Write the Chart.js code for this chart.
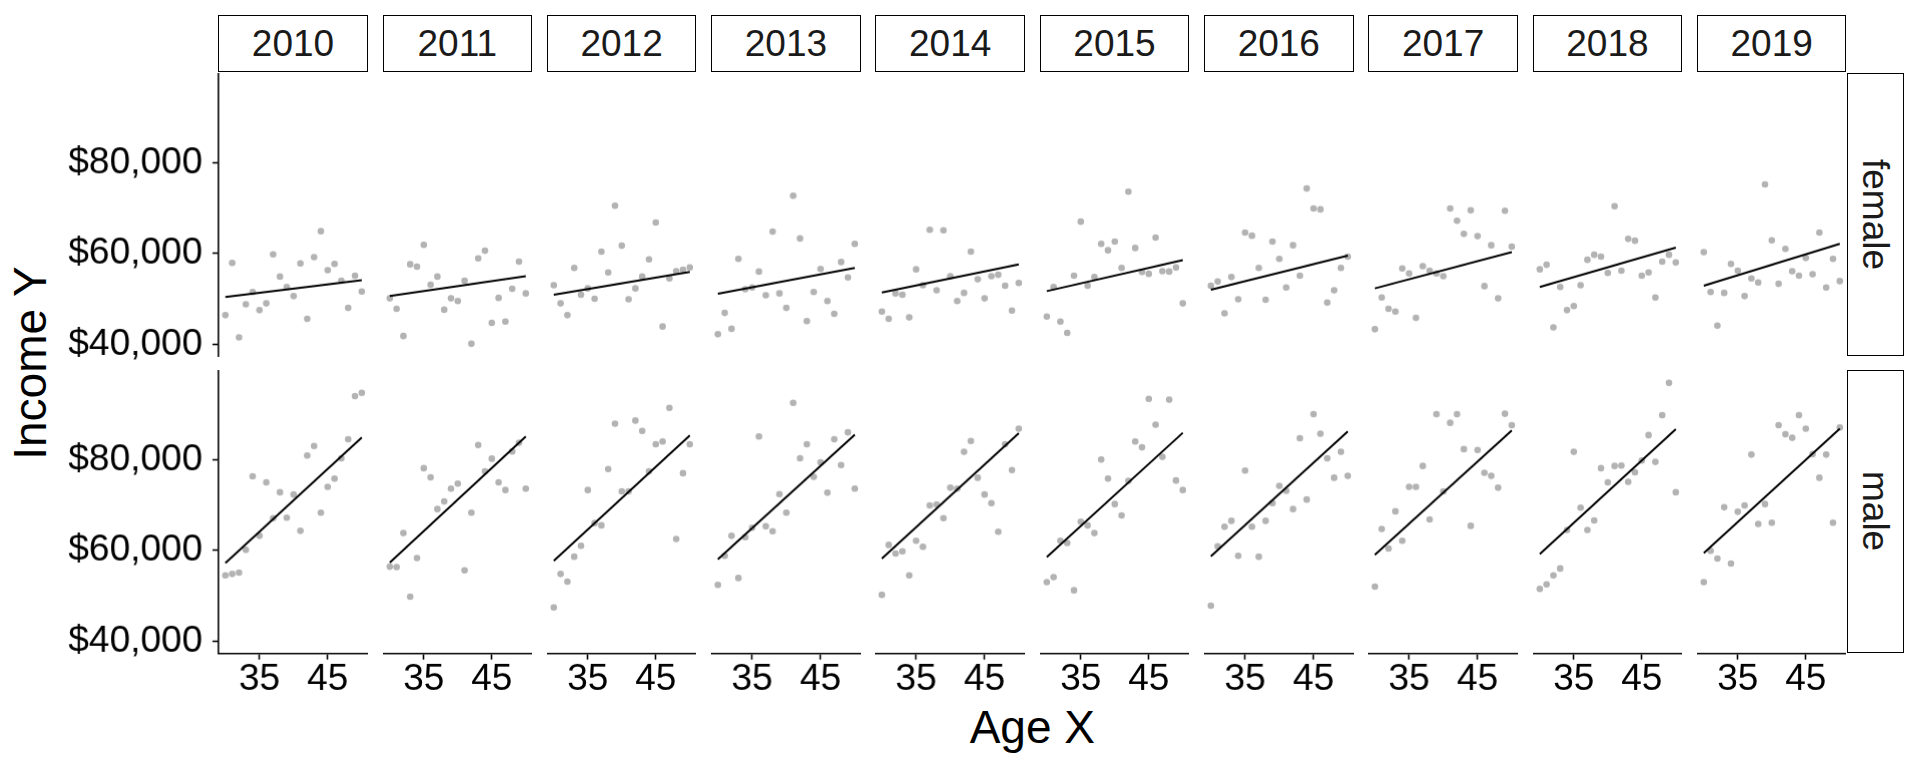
<!DOCTYPE html>
<html><head><meta charset="utf-8">
<script src="https://cdn.jsdelivr.net/npm/chart.js@4.4.1/dist/chart.umd.min.js"></script>
<style>
html,body{margin:0;padding:0;background:#fff;width:1920px;height:768px;overflow:hidden;font-family:"Liberation Sans",Arial,sans-serif;}
.box{position:absolute;}
.strip{position:absolute;box-sizing:border-box;border:1.8px solid #000;background:#fff;display:flex;align-items:center;justify-content:center;font-size:37px;line-height:1;color:#1a1a1a;}
.vstrip{writing-mode:vertical-rl;}
.title{position:absolute;font-size:46px;line-height:1;color:#000;white-space:nowrap;}
</style></head><body>
<script>
// ---- data ----
const years = ["2010","2011","2012","2013","2014","2015","2016","2017","2018","2019"];
const genders = ["female","male"];
const ages = [30,31,32,33,34,35,36,37,38,39,40,41,42,43,44,45,46,47,48,49,50];
const xTicks = [35,45];
const yTicks = [40,60,80]; // thousands of dollars

// income in thousands of dollars, one value per age
const f2010 = [46.4,57.9,41.5,48.8,51.5,47.5,49.0,59.8,54.9,52.6,50.6,57.8,45.6,59.2,64.9,56.3,57.7,54.0,48.0,55.1,51.6];
const f2011 = [50.1,47.8,41.8,57.6,57.1,61.9,53.1,54.9,47.6,50.1,49.5,54.0,40.1,58.9,60.6,44.7,50.2,45.0,52.2,58.2,51.2];
const f2012 = [53.0,49.0,46.4,56.8,50.9,52.3,50.0,60.4,55.8,70.5,61.7,49.9,52.3,54.9,58.7,66.8,43.9,54.5,56.1,56.4,56.9];
const f2013 = [42.2,46.9,43.4,58.8,52.1,52.5,56.0,50.8,64.8,51.2,48.0,72.7,63.3,45.1,51.5,56.6,49.5,46.7,58.1,54.7,62.1];
const f2014 = [47.2,45.6,51.2,50.9,45.9,56.5,53.0,65.2,51.9,65.1,55.0,49.5,51.3,60.4,54.3,50.1,55.0,55.3,52.9,47.4,53.5];
const f2015 = [46.1,52.6,45.0,42.5,55.1,67.0,52.9,54.8,62.1,60.7,62.6,56.8,73.6,61.2,55.9,55.5,63.5,56.1,56.0,56.9,49.0];
const f2016 = [52.9,53.8,46.8,54.8,49.9,64.6,63.9,56.8,49.8,62.6,58.8,52.5,61.8,55.1,74.3,69.9,69.7,49.2,51.9,56.8,59.3];
const f2017 = [43.3,50.3,47.8,47.2,56.7,55.6,45.8,57.2,56.2,55.6,55.0,69.9,67.2,64.3,69.5,63.8,52.8,61.8,50.1,69.4,61.5];
const f2018 = [56.5,57.5,43.7,52.6,47.5,48.4,53.0,58.6,59.7,59.3,55.7,70.4,56.2,63.2,62.8,55.1,55.8,50.3,58.2,59.7,58.0];
const f2019 = [60.3,51.5,44.1,51.3,57.7,56.2,50.6,54.5,53.6,75.2,62.9,53.3,61.0,56.1,55.1,59.0,55.4,64.6,52.5,58.8,53.9];

const m2010 = [54.5,54.8,55.1,60.1,76.3,63.2,75.0,67.1,72.8,67.2,72.3,64.3,80.9,83.0,68.3,74.0,75.8,80.3,84.5,94.0,94.7];
const m2011 = [56.4,56.3,63.8,49.8,58.3,78.1,76.1,69.1,70.8,73.6,74.7,55.6,68.3,83.2,77.4,80.2,75.0,73.3,81.8,83.7,73.6];
const m2012 = [47.4,54.8,53.1,58.6,61.0,73.3,66.0,65.5,77.9,87.9,73.0,73.0,88.6,86.3,77.4,83.4,84.0,91.4,62.5,77.0,83.4];
const m2013 = [52.4,58.8,63.2,53.9,62.9,65.0,85.1,65.3,64.2,72.4,68.3,92.5,80.3,83.4,76.2,79.4,72.7,84.5,78.8,86.0,73.6];
const m2014 = [50.2,61.2,59.3,59.8,54.5,62.1,60.8,69.9,70.1,67.1,73.8,73.6,81.7,84.1,76.0,72.3,70.4,64.1,83.4,77.7,86.8];
const m2015 = [53.0,54.1,62.1,61.6,51.2,66.3,65.5,63.8,80.0,75.8,70.2,67.7,75.3,84.0,82.7,93.4,87.7,80.6,93.2,75.4,73.3];
const m2016 = [47.8,60.9,65.2,66.5,58.8,77.6,65.2,58.6,66.5,70.4,74.2,73.1,69.1,84.7,71.2,90.0,85.7,80.3,76.0,81.7,76.4];
const m2017 = [52.0,64.7,60.4,68.6,62.1,74.0,74.0,78.6,66.8,90.0,73.0,88.1,90.0,82.3,65.4,82.1,77.1,76.4,73.8,90.1,87.6];
const m2018 = [51.5,52.5,54.5,56.0,64.5,81.7,69.4,64.5,66.6,78.1,75.0,78.6,78.7,75.1,77.2,79.8,85.4,79.5,89.8,96.9,72.8];
const m2019 = [53.0,59.9,58.2,69.5,57.1,68.5,69.9,81.1,65.8,70.2,66.1,87.6,85.6,84.8,89.8,86.8,81.2,76.0,81.1,66.1,87.1];

// fitted line endpoints (at first and last age), thousands of dollars
const fitAges = [30,50];
const femaleFitStart = [50.4,50.6,50.9,51.1,51.4,51.7,52.0,52.3,52.6,52.9];
const femaleFitEnd   = [54.1,55.0,55.9,56.8,57.6,58.5,59.5,60.3,61.3,62.1];
const maleFitStart   = [57.2,57.3,57.7,58.0,58.2,58.5,58.7,59.0,59.2,59.4];
const maleFitEnd     = [84.9,85.1,85.3,85.5,85.8,85.9,86.2,86.4,86.7,86.8];

const femaleSeries = [f2010,f2011,f2012,f2013,f2014,f2015,f2016,f2017,f2018,f2019];
const maleSeries = [m2010,m2011,m2012,m2013,m2014,m2015,m2016,m2017,m2018,m2019];

// ---- layout ----
const PANEL_L = 218.2, STEP = 164.3, PW = 149.6, PH = 282.7;
const ROW_T = [73, 370];
const YAXW = 160, XAXH = 70, PADB = 24;
const X_MIN = 29, X_MAX = 51, Y_MIN = 37.26, Y_MAX = 99.74;
const FONT = "'Liberation Sans', Arial, sans-serif";

function addDiv(cls, text, css){
  const d = document.createElement('div');
  d.className = cls; d.textContent = text;
  Object.assign(d.style, css);
  document.body.appendChild(d);
  return d;
}

// top strips
years.forEach((y,c)=>{
  addDiv('strip', y, {left:(PANEL_L + c*STEP)+'px', top:'15px', width:PW+'px', height:'57px'});
});
// right strips
genders.forEach((g,r)=>{
  addDiv('strip vstrip', g, {left:(PANEL_L + 9*STEP + PW)+'px', top:ROW_T[r]+'px', width:'57px', height:PH+'px'});
});
// axis titles
addDiv('title', 'Income Y', {left:'30px', top:'363px', transform:'translate(-50%,-50%) rotate(-90deg)'});
addDiv('title', 'Age X', {left:(PANEL_L + (9*STEP+PW)/2)+'px', top:'727px', transform:'translate(-50%,-50%)'});

Chart.defaults.font.family = FONT;
Chart.defaults.animation = false;

function noPad(s){ s.paddingTop = 0; s.paddingBottom = 0; s.paddingLeft = 0; s.paddingRight = 0; }

for (let r=0;r<2;r++){
  for (let c=0;c<10;c++){
    const showY = c===0, showX = r===1;
    const left = PANEL_L + c*STEP - (showY?YAXW:0);
    const width = PW + (showY?YAXW:0);
    const padB = showX ? 0 : PADB;
    const height = PH + (showX?XAXH:0) + padB;
    const box = document.createElement('div');
    box.className='box';
    Object.assign(box.style,{left:left+'px', top:ROW_T[r]+'px', width:width+'px', height:height+'px'});
    const cv = document.createElement('canvas');
    box.appendChild(cv);
    document.body.appendChild(box);

    const vals = (r===0?femaleSeries:maleSeries)[c];
    const fs = (r===0?femaleFitStart:maleFitStart)[c];
    const fe = (r===0?femaleFitEnd:maleFitEnd)[c];

    new Chart(cv, {
      type:'scatter',
      data:{datasets:[
        {type:'line', data:[{x:fitAges[0],y:fs},{x:fitAges[1],y:fe}], borderColor:'#000', borderWidth:2,
         pointRadius:0, fill:false, order:0},
        {type:'scatter', data:ages.map((a,i)=>({x:a,y:vals[i]})), backgroundColor:'#B3B3B3', borderWidth:0,
         pointRadius:3.3, order:1}
      ]},
      options:{
        responsive:true, maintainAspectRatio:false, animation:false, events:[],
        layout:{padding:{top:0,left:0,right:0,bottom:padB}, autoPadding:false},
        plugins:{legend:{display:false}, tooltip:{enabled:false}},
        scales:{
          x:{type:'linear', min:X_MIN, max:X_MAX, display:showX,
            afterBuildTicks:s=>{ s.ticks = xTicks.map(v=>({value:v})); },
            afterFit:s=>{ s.height = showX ? XAXH : 0; noPad(s); },
            grid:{display:true, drawOnChartArea:false, drawTicks:true, tickLength:6, tickColor:'#000', tickWidth:1.6},
            border:{display:true, color:'#000', width:1.6},
            ticks:{color:'#000', font:{size:37, family:FONT}, padding:-2, maxRotation:0, autoSkip:false}
          },
          y:{type:'linear', min:Y_MIN, max:Y_MAX, display:showY,
            afterBuildTicks:s=>{ s.ticks = yTicks.map(v=>({value:v})); },
            afterFit:s=>{ s.width = showY ? YAXW : 0; noPad(s); },
            grid:{display:true, drawOnChartArea:false, drawTicks:true, tickLength:6, tickColor:'#000', tickWidth:1.6},
            border:{display:true, color:'#000', width:1.6},
            ticks:{color:'#000', font:{size:37, family:FONT}, padding:10, autoSkip:false,
              callback:v=>'$'+(v*1000).toLocaleString('en-US')}
          }
        }
      }
    });
  }
}
</script>
</body></html>
